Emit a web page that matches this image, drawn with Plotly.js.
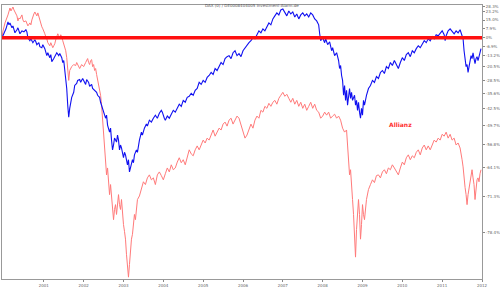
<!DOCTYPE html>
<html><head><meta charset="utf-8">
<script src="https://cdn.plot.ly/plotly-3.0.1.min.js"></script>
<style>html,body{margin:0;padding:0;background:#fff}#chart{width:500px;height:287px}</style>
</head><body><div id="chart"></div>
<script>
// Performance since Jan 2000 in percent (decimal years)
const daxYears = [1999.95,2000.0,2000.05,2000.1,2000.125,2000.15,2000.2,2000.225,2000.275,2000.325,2000.35,2000.4,2000.45,2000.5,2000.55,2000.575,2000.6,2000.65,2000.675,2000.725,2000.775,2000.8,2000.825,2000.875,2000.9,2000.95,2000.975,
2001.025,2001.075,2001.1,2001.15,2001.175,2001.2,2001.25,2001.3,2001.325,2001.375,2001.4,2001.45,2001.475,2001.5,2001.525,2001.55,2001.575,2001.6,2001.625,2001.65,2001.675,2001.7,2001.75,2001.775,2001.825,2001.85,2001.9,2001.925,2001.975,
2002.0,2002.05,2002.075,2002.125,2002.15,2002.2,2002.225,2002.275,2002.325,2002.35,2002.4,2002.425,2002.475,2002.5,2002.55,2002.575,2002.6,2002.65,2002.675,2002.7,2002.725,2002.75,2002.775,2002.825,2002.85,2002.875,2002.9,2002.925,2002.95,
2003.0,2003.025,2003.05,2003.1,2003.125,2003.15,2003.175,2003.2,2003.225,2003.25,2003.275,2003.325,2003.35,2003.4,2003.45,2003.475,2003.525,2003.575,2003.6,2003.65,2003.7,2003.75,2003.8,2003.85,2003.9,2003.95,2003.975,
2004.025,2004.05,2004.1,2004.15,2004.2,2004.25,2004.3,2004.35,2004.4,2004.45,2004.5,2004.55,2004.6,2004.65,2004.7,2004.75,2004.8,2004.85,2004.9,2004.95,
2005.0,2005.05,2005.1,2005.15,2005.2,2005.25,2005.3,2005.35,2005.4,2005.45,2005.5,2005.55,2005.6,2005.65,2005.7,2005.75,2005.8,2005.85,2005.9,2005.95,
2006.0,2006.05,2006.1,2006.15,2006.2,2006.25,2006.3,2006.35,2006.4,2006.45,2006.5,2006.55,2006.6,2006.65,2006.7,2006.75,2006.8,2006.85,2006.9,2006.95,
2007.0,2007.05,2007.1,2007.15,2007.2,2007.25,2007.3,2007.35,2007.4,2007.45,2007.5,2007.55,2007.6,2007.65,2007.7,2007.75,2007.8,2007.85,2007.9,2007.925,2007.95,
2008.0,2008.05,2008.075,2008.125,2008.175,2008.225,2008.25,2008.3,2008.35,2008.4,2008.425,2008.45,2008.475,2008.5,2008.525,2008.55,2008.575,2008.6,2008.625,2008.65,2008.675,2008.7,2008.725,2008.75,2008.8,2008.825,2008.85,2008.875,2008.9,2008.925,2008.95,2008.975,
2009.0,2009.025,2009.05,2009.1,2009.15,2009.2,2009.25,2009.3,2009.35,2009.4,2009.45,2009.5,2009.55,2009.6,2009.65,2009.7,2009.75,2009.8,2009.85,2009.9,2009.95,
2010.0,2010.05,2010.1,2010.15,2010.2,2010.25,2010.3,2010.35,2010.4,2010.45,2010.5,2010.55,2010.6,2010.65,2010.7,2010.75,2010.8,2010.85,2010.9,2010.95,
2011.0,2011.05,2011.075,2011.1,2011.15,2011.2,2011.25,2011.3,2011.35,2011.4,2011.45,2011.5,2011.525,2011.55,2011.575,2011.6,2011.625,2011.65,2011.675,2011.7,2011.725,2011.75,2011.775,2011.8,2011.825,2011.85,2011.875,2011.9,2011.925,2011.95,2011.975];
const daxPct = [0,3.2,7.3,13.3,10.7,12.4,8.1,9.8,4.0,6.5,8.1,3.2,5.6,4.8,6.5,4.8,0,-2.3,-0.8,-3.8,-1.5,-3.1,-5.3,-3.8,-6.8,-7.5,-5.3,
-8.2,-13.1,-11.1,-14.5,-12.4,-17.1,-15.1,-12.4,-11.1,-13.1,-11.7,-14.5,-17.7,-16.4,-21.5,-25.7,-32.9,-41.2,-46.5,-42.6,-38.9,-37.4,-34.9,-31.3,-30.2,-28.5,-28.0,-29.6,-27.4,
-28.5,-30.7,-28.0,-29.6,-31.8,-30.7,-32.9,-33.9,-34.9,-36.4,-37.4,-39.8,-42.6,-44.3,-46.9,-45.6,-49.7,-52.4,-50.9,-55.3,-58.6,-57.0,-54.6,-56.0,-53.5,-55.3,-58.6,-57.0,-58.0,
-61.1,-59.4,-60.2,-63.2,-61.7,-65.2,-64.1,-63.2,-61.7,-62.6,-60.2,-58.6,-59.4,-55.3,-52.4,-53.5,-50.9,-49.3,-50.1,-47.7,-48.5,-46.9,-45.6,-46.9,-44.8,-43.5,-44.3,
-46.9,-47.7,-46.0,-46.9,-45.2,-43.5,-44.3,-42.6,-40.7,-41.7,-38.9,-39.8,-37.4,-36.9,-35.4,-36.4,-33.9,-32.9,-29.6,-30.7,
-28.5,-29.6,-26.8,-25.7,-23.9,-25.1,-21.5,-22.7,-19.6,-17.7,-19.0,-15.1,-13.8,-13.1,-15.1,-11.1,-9.7,-13.1,-11.7,-13.8,
-9.7,-7.5,-5.3,-3.8,-2.3,0,-0.8,2.4,5.6,4.0,7.3,5.6,9.8,12.4,10.7,16.0,18.8,21.6,19.7,24.5,
25.4,21.6,18.8,23.5,20.6,22.5,17.8,20.6,16.0,19.7,21.6,18.8,20.6,17.8,21.6,19.7,16.0,14.2,10.7,3.2,-2.3,
0,-3.8,-0.8,-5.3,-3.1,-9.7,-7.5,-13.1,-11.1,-16.4,-21.5,-19.6,-25.7,-28.5,-36.4,-31.3,-38.9,-33.9,-41.2,-36.4,-32.9,-37.9,-34.9,-38.9,-36.4,-41.2,-38.9,-43.5,-39.8,-44.3,-46.9,-42.6,
-45.6,-38.9,-41.2,-36.4,-32.9,-31.3,-28.5,-29.6,-26.3,-27.4,-23.9,-22.7,-24.5,-20.3,-21.5,-17.7,-19.6,-16.4,-19.0,-21.5,-17.7,
-14.5,-16.4,-12.4,-11.1,-13.8,-9.7,-11.1,-8.2,-6.1,-7.5,-4.6,-2.3,-3.8,-0.8,-2.3,0.8,-0.8,2.4,1.6,4.0,
5.6,2.4,-2.3,1.6,5.6,7.3,4.8,3.2,5.6,4.0,6.5,2.4,-0.8,-9.7,-16.4,-20.3,-19.0,-23.9,-20.3,-16.4,-13.1,-15.1,-11.1,-15.1,-18.4,-15.1,-13.8,-16.4,-13.1,-11.1,-8.2];

const allianzYears = [1999.95,1999.975,2000.025,2000.075,2000.1,2000.15,2000.175,2000.2,2000.225,2000.25,2000.275,2000.325,2000.35,2000.375,2000.4,2000.45,2000.475,2000.5,2000.55,2000.575,2000.6,2000.65,2000.675,2000.7,2000.725,2000.75,2000.775,2000.8,2000.825,2000.85,2000.875,2000.9,2000.925,2000.95,2000.975,
2001.0,2001.025,2001.05,2001.075,2001.1,2001.125,2001.15,2001.175,2001.2,2001.225,2001.25,2001.275,2001.3,2001.325,2001.35,2001.375,2001.4,2001.425,2001.45,2001.475,2001.5,2001.525,2001.55,2001.575,2001.6,2001.625,2001.65,2001.675,2001.7,2001.75,2001.8,2001.825,2001.875,2001.9,2001.95,
2002.0,2002.05,2002.075,2002.1,2002.125,2002.15,2002.175,2002.2,2002.225,2002.25,2002.275,2002.3,2002.325,2002.35,2002.375,2002.4,2002.425,2002.45,2002.475,2002.5,2002.525,2002.55,2002.575,2002.6,2002.625,2002.65,2002.675,2002.7,2002.725,2002.75,2002.775,2002.8,2002.825,2002.85,2002.875,2002.9,2002.925,2002.95,2002.975,
2003.0,2003.025,2003.05,2003.075,2003.1,2003.125,2003.15,2003.175,2003.2,2003.225,2003.25,2003.275,2003.3,2003.325,2003.35,2003.4,2003.45,2003.5,2003.55,2003.6,2003.65,2003.7,2003.75,2003.8,2003.85,2003.9,2003.95,
2004.0,2004.05,2004.1,2004.15,2004.2,2004.25,2004.3,2004.35,2004.4,2004.45,2004.5,2004.55,2004.6,2004.65,2004.7,2004.75,2004.8,2004.85,2004.9,2004.95,
2005.0,2005.05,2005.1,2005.15,2005.2,2005.25,2005.3,2005.35,2005.4,2005.45,2005.5,2005.55,2005.6,2005.65,2005.7,2005.75,2005.8,2005.85,2005.9,2005.95,
2006.0,2006.05,2006.1,2006.15,2006.2,2006.25,2006.3,2006.35,2006.4,2006.45,2006.5,2006.55,2006.6,2006.65,2006.7,2006.75,2006.8,2006.85,2006.9,2006.95,
2007.0,2007.05,2007.1,2007.15,2007.2,2007.25,2007.3,2007.35,2007.4,2007.45,2007.5,2007.55,2007.6,2007.65,2007.7,2007.75,2007.8,2007.85,2007.9,2007.95,
2008.0,2008.05,2008.1,2008.15,2008.2,2008.25,2008.3,2008.35,2008.4,2008.45,2008.5,2008.55,2008.6,2008.625,2008.65,2008.675,2008.7,2008.725,2008.75,2008.775,2008.8,2008.825,2008.85,2008.875,2008.9,2008.925,2008.95,2008.975,
2009.0,2009.025,2009.05,2009.1,2009.15,2009.2,2009.25,2009.3,2009.35,2009.4,2009.45,2009.5,2009.55,2009.6,2009.65,2009.7,2009.75,2009.8,2009.85,2009.9,2009.95,
2010.0,2010.05,2010.1,2010.15,2010.2,2010.25,2010.3,2010.35,2010.4,2010.45,2010.5,2010.55,2010.6,2010.65,2010.7,2010.75,2010.8,2010.85,2010.9,2010.95,
2011.0,2011.05,2011.1,2011.15,2011.2,2011.25,2011.3,2011.35,2011.4,2011.45,2011.475,2011.5,2011.525,2011.55,2011.575,2011.6,2011.625,2011.65,2011.675,2011.7,2011.725,2011.75,2011.775,2011.8,2011.825,2011.85,2011.875,2011.9,2011.925,2011.95,2011.975];
const allianzPct = [0,5.6,12.4,16.9,19.7,26.4,23.5,25.4,27.4,24.5,22.5,18.8,14.2,16.9,16.0,19.7,15.1,13.3,14.2,12.4,9.8,12.4,10.7,15.1,18.8,20.6,22.5,19.7,18.8,21.6,17.8,16.0,12.4,9.0,7.3,
5.6,3.2,0.8,-0.8,-3.8,-5.3,-6.1,-3.8,-5.3,-7.5,-6.1,-4.6,-1.5,0.8,3.2,1.6,0,2.4,0.8,-2.3,-4.6,-6.8,-9.7,-14.5,-20.3,-28.5,-22.7,-21.5,-20.3,-19.0,-19.6,-17.7,-20.3,-21.5,-19.0,
-20.3,-17.7,-16.4,-15.1,-17.7,-19.0,-16.4,-15.8,-20.3,-19.0,-22.7,-21.5,-25.1,-28.5,-30.7,-32.9,-36.4,-41.2,-46.9,-51.6,-58.6,-63.2,-66.0,-64.1,-67.3,-70.9,-68.5,-72.0,-74.5,-76.1,-74.1,-73.1,-75.1,-72.0,-70.9,-73.1,-74.1,-72.0,-75.1,
-77.0,-78.2,-79.5,-81.8,-83.5,-84.8,-83.2,-81.1,-79.5,-78.7,-77.0,-75.1,-76.1,-73.1,-72.0,-71.2,-69.7,-67.8,-68.5,-66.8,-66.0,-67.3,-66.8,-68.5,-66.0,-65.2,-66.2,
-67.3,-65.7,-64.1,-65.2,-63.2,-64.6,-64.1,-62.4,-61.1,-62.6,-61.7,-63.2,-61.1,-58.6,-59.9,-60.5,-58.6,-57.3,-58.6,-56.6,
-55.3,-56.3,-54.6,-55.3,-53.2,-51.6,-53.9,-52.4,-50.9,-51.6,-49.3,-48.5,-50.1,-47.7,-46.9,-49.3,-47.7,-46.0,-46.9,-49.7,
-52.4,-54.6,-53.5,-51.6,-49.3,-50.9,-47.7,-46.0,-46.9,-43.5,-44.3,-41.7,-42.6,-40.3,-41.7,-39.8,-38.9,-40.7,-37.9,-36.4,
-34.9,-36.9,-35.9,-37.9,-39.8,-37.9,-40.7,-38.9,-41.7,-39.8,-42.6,-40.7,-43.5,-41.7,-39.8,-42.6,-40.7,-43.5,-44.3,-46.9,
-46.0,-44.3,-45.6,-44.3,-46.9,-46.0,-45.2,-46.9,-46.0,-47.7,-50.9,-52.4,-51.6,-57.0,-61.7,-66.0,-64.6,-69.7,-72.0,-75.1,-80.3,-82.2,-77.9,-74.1,-72.0,-75.1,-79.5,-77.0,
-73.1,-75.1,-76.1,-72.0,-69.7,-68.5,-67.3,-68.0,-66.2,-66.0,-66.8,-65.2,-64.6,-65.7,-64.1,-64.6,-63.2,-64.1,-65.2,-66.0,-64.1,
-62.4,-63.2,-61.1,-60.2,-61.7,-60.5,-61.1,-59.4,-58.6,-60.2,-58.0,-57.0,-58.6,-57.3,-58.6,-57.0,-55.3,-56.0,-54.6,-55.3,
-53.2,-53.9,-52.4,-54.6,-53.2,-55.3,-54.6,-57.0,-56.3,-58.0,-59.4,-61.7,-63.8,-67.3,-69.2,-70.9,-73.1,-70.9,-69.2,-67.8,-66.0,-64.6,-66.8,-68.5,-72.0,-69.2,-67.3,-66.8,-67.8,-65.7,-64.6];

const yTickPct = [28.3,23.2,15.0,7.9,0,-6.9,-13.2,-20.5,-28.5,-35.6,-42.5,-49.7,-56.8,-64.1,-71.3,-78.4];
const yTickText = ["28.3%","23.2%","15.0%","7.9%","0%","-6.9%","-13.2%","-20.5%","-28.5%","-35.6%","-42.5%","-49.7%","-56.8%","-64.1%","-71.3%","-78.4%"];
const xTickYears = [2001,2002,2003,2004,2005,2006,2007,2008,2009,2010,2011,2012];
const titleText = "DAX (0) / DE0008404005 Investment-Alarm.de";
const labelText = "Allianz";

const toRatio = p => 1 + p / 100;

const traces = [
  {x: allianzYears, y: allianzPct.map(toRatio), type: 'scatter', mode: 'lines',
   line: {color: '#ff7a7a', width: 1}, hoverinfo: 'skip'},
  {x: daxYears, y: daxPct.map(toRatio), type: 'scatter', mode: 'lines',
   line: {color: '#1010f0', width: 1.1}, hoverinfo: 'skip'}
];

const layout = {
  width: 500, height: 287,
  margin: {l: 2, r: 18, t: 5, b: 8},
  paper_bgcolor: '#ffffff', plot_bgcolor: '#ffffff',
  showlegend: false,
  font: {family: 'DejaVu Sans, sans-serif', size: 4, color: '#666'},
  xaxis: {
    range: [1999.95, 2012.0], tickmode: 'array', tickvals: xTickYears,
    ticktext: xTickYears.map(String), ticks: 'outside', ticklen: 2, tickcolor: '#888',
    ticklabelstandoff: 0,
    showgrid: false, zeroline: false, showline: true, linecolor: '#999', linewidth: 1, mirror: true,
    tickfont: {size: 4, color: '#666'}
  },
  yaxis: {
    type: 'log', side: 'right', range: [-0.8244, 0.1120],
    tickmode: 'array', tickvals: yTickPct.map(toRatio), ticktext: yTickText,
    ticks: 'outside', ticklen: 2, tickcolor: '#888', ticklabelstandoff: 0,
    showgrid: false, zeroline: false, showline: true, linecolor: '#999', linewidth: 1, mirror: true,
    tickfont: {size: 4, color: '#666'}
  },
  shapes: [{type: 'line', xref: 'paper', x0: 0, x1: 1, yref: 'y', y0: 1, y1: 1,
    line: {color: '#ff1010', width: 3.5}, layer: 'above'}],
  annotations: [
    {text: titleText, xref: 'paper', yref: 'paper', x: 0.52, y: 1.0, yanchor: 'middle', xanchor: 'center',
     showarrow: false, font: {size: 4, color: '#555'}},
    {text: '<b>' + labelText + '</b>', xref: 'paper', yref: 'paper', x: 0.83, y: 0.565,
     xanchor: 'center', yanchor: 'middle', showarrow: false, font: {size: 6, color: '#ff3030'}}
  ]
};

Plotly.newPlot('chart', traces, layout, {staticPlot: true, displayModeBar: false});
</script></body></html>
